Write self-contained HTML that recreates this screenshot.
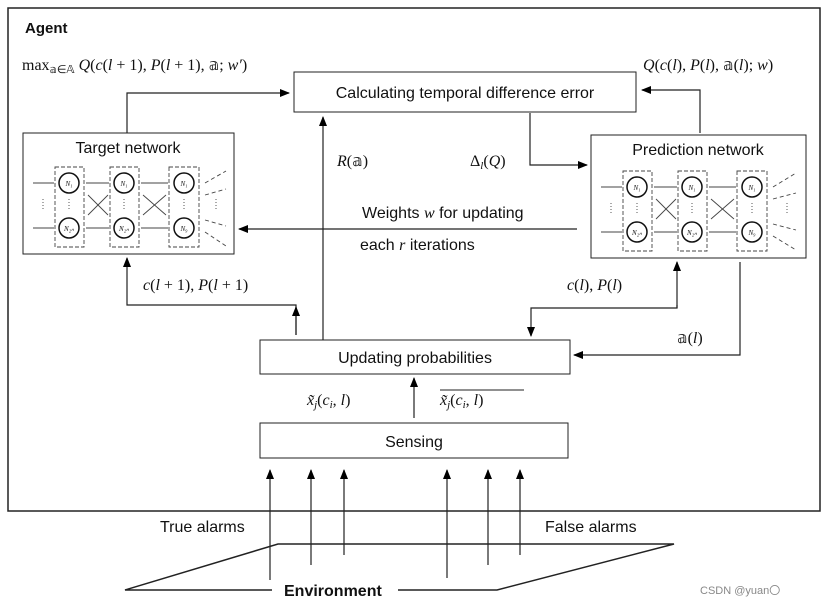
<!DOCTYPE html>
<html><head><meta charset="utf-8"><style>
body{margin:0;background:#fff;}
svg{display:block;}
.s{font-family:"Liberation Sans",sans-serif;font-size:16px;fill:#111;}
.m{font-family:"Liberation Serif",serif;font-size:16px;fill:#111;}
.n{font-family:"Liberation Serif",serif;font-size:7px;font-style:italic;fill:#111;}
</style></head><body>
<svg width="825" height="604" viewBox="0 0 825 604" xmlns="http://www.w3.org/2000/svg">
<defs>
<marker id="a" markerWidth="10" markerHeight="8" refX="9" refY="4" orient="auto" markerUnits="userSpaceOnUse">
<path d="M0,0 L10,4 L0,8 z" fill="#000"/></marker>
</defs>
<rect x="8" y="8" width="812" height="503" fill="none" stroke="#222" stroke-width="1.5"/>
<text x="25" y="33" class="s" style="font-weight:bold;font-size:15px">Agent</text>
<text x="22" y="70" class="m">max<tspan font-size="11" dy="3">𝕒∈𝔸</tspan><tspan dy="-3" font-style="italic"> Q</tspan>(<tspan font-style="italic">c</tspan>(<tspan font-style="italic">l</tspan> + 1), <tspan font-style="italic">P</tspan>(<tspan font-style="italic">l</tspan> + 1), 𝕒; <tspan font-style="italic">w′</tspan>)</text>
<text x="643" y="70" class="m"><tspan font-style="italic">Q</tspan>(<tspan font-style="italic">c</tspan>(<tspan font-style="italic">l</tspan>), <tspan font-style="italic">P</tspan>(<tspan font-style="italic">l</tspan>), 𝕒(<tspan font-style="italic">l</tspan>); <tspan font-style="italic">w</tspan>)</text>

<rect x="294" y="72" width="342" height="40" fill="#fff" stroke="#222"/>
<text x="465" y="98" text-anchor="middle" class="s">Calculating temporal difference error</text>

<g fill="none" stroke="#222" stroke-width="1.2">
<polyline points="127,133 127,93 289,93" marker-end="url(#a)"/>
<polyline points="700,133 700,90 642,90" marker-end="url(#a)"/>
<line x1="323" y1="340" x2="323" y2="117" marker-end="url(#a)"/>
<polyline points="530,113 530,165 587,165" marker-end="url(#a)"/>
<line x1="577" y1="229" x2="239" y2="229" marker-end="url(#a)"/>
<polyline points="296,335 296,305 127,305 127,258" marker-end="url(#a)"/>
<line x1="296" y1="335" x2="296" y2="307" marker-end="url(#a)"/>
<polyline points="677,305 677,308 531,308 531,336" marker-end="url(#a)"/>
<line x1="677" y1="308" x2="677" y2="262" marker-end="url(#a)"/>
<polyline points="740,262 740,355 574,355" marker-end="url(#a)"/>
<line x1="414" y1="418" x2="414" y2="378" marker-end="url(#a)"/>
<line x1="270" y1="580" x2="270" y2="470" marker-end="url(#a)"/>
<line x1="311" y1="565" x2="311" y2="470" marker-end="url(#a)"/>
<line x1="344" y1="555" x2="344" y2="470" marker-end="url(#a)"/>
<line x1="447" y1="578" x2="447" y2="470" marker-end="url(#a)"/>
<line x1="488" y1="565" x2="488" y2="470" marker-end="url(#a)"/>
<line x1="520" y1="555" x2="520" y2="470" marker-end="url(#a)"/>
<polyline points="272,590 125,590 278,544 674,544 497,590 398,590" stroke-width="1.5"/>
</g>

<text x="337" y="166" class="m"><tspan font-style="italic">R</tspan>(𝕒)</text>
<text x="470" y="166" class="m">Δ<tspan font-size="11" dy="3" font-style="italic">l</tspan><tspan dy="-3">(</tspan><tspan font-style="italic">Q</tspan>)</text>
<text x="362" y="218" class="s">Weights <tspan class="m" font-style="italic">w</tspan> for updating</text>
<text x="360" y="250" class="s">each <tspan class="m" font-style="italic">r</tspan> iterations</text>
<text x="143" y="290" class="m"><tspan font-style="italic">c</tspan>(<tspan font-style="italic">l</tspan> + 1), <tspan font-style="italic">P</tspan>(<tspan font-style="italic">l</tspan> + 1)</text>
<text x="567" y="290" class="m"><tspan font-style="italic">c</tspan>(<tspan font-style="italic">l</tspan>), <tspan font-style="italic">P</tspan>(<tspan font-style="italic">l</tspan>)</text>
<text x="677" y="343" class="m">𝕒(<tspan font-style="italic">l</tspan>)</text>

<rect x="260" y="340" width="310" height="34" fill="#fff" stroke="#222"/>
<text x="415" y="363" text-anchor="middle" class="s">Updating probabilities</text>
<text x="307" y="405" class="m"><tspan font-style="italic">x̃</tspan><tspan font-size="11" dy="3" font-style="italic">j</tspan><tspan dy="-3">(</tspan><tspan font-style="italic">c</tspan><tspan font-size="11" dy="3" font-style="italic">i</tspan><tspan dy="-3">, </tspan><tspan font-style="italic">l</tspan>)</text>
<text x="440" y="405" class="m"><tspan font-style="italic">x̃</tspan><tspan font-size="11" dy="3" font-style="italic">j</tspan><tspan dy="-3">(</tspan><tspan font-style="italic">c</tspan><tspan font-size="11" dy="3" font-style="italic">i</tspan><tspan dy="-3">, </tspan><tspan font-style="italic">l</tspan>)</text>
<line x1="440" y1="390" x2="524" y2="390" stroke="#222"/>
<rect x="260" y="423" width="308" height="35" fill="#fff" stroke="#222"/>
<text x="414" y="447" text-anchor="middle" class="s">Sensing</text>

<text x="160" y="532" class="s">True alarms</text>
<text x="545" y="532" class="s">False alarms</text>
<text x="284" y="596" class="s" style="font-weight:bold">Environment</text>
<text x="700" y="594" class="s" style="font-size:11px;fill:#888">CSDN @yuan〇</text>

<!-- Target network -->
<g transform="translate(23,133)">
<rect x="0" y="0" width="211" height="121" fill="#fff" stroke="#222"/>
<text x="105" y="20" text-anchor="middle" class="s">Target network</text>
<g stroke="#444" fill="none" stroke-width="0.9">
<rect x="32" y="34" width="29" height="80" stroke-dasharray="4,2"/>
<rect x="87" y="34" width="29" height="80" stroke-dasharray="4,2"/>
<rect x="146" y="34" width="30" height="80" stroke-dasharray="4,2"/>
<line x1="10" y1="50" x2="31" y2="50"/><line x1="10" y1="95" x2="31" y2="95"/>
<line x1="63" y1="50" x2="86" y2="50"/><line x1="63" y1="95" x2="86" y2="95"/>
<line x1="118" y1="50" x2="145" y2="50"/><line x1="118" y1="95" x2="145" y2="95"/>
<line x1="65" y1="82" x2="85" y2="62"/><line x1="65" y1="62" x2="85" y2="82"/>
<line x1="120" y1="82" x2="143" y2="62"/><line x1="120" y1="62" x2="143" y2="82"/>
<g stroke-dasharray="4,3"><line x1="182" y1="50" x2="203" y2="38"/><line x1="182" y1="62" x2="203" y2="56"/><line x1="182" y1="87" x2="203" y2="93"/><line x1="182" y1="99" x2="203" y2="113"/></g>
<g stroke="#111" stroke-width="1.5"><circle cx="46" cy="50" r="10"/><circle cx="46" cy="95" r="10"/><circle cx="101" cy="50" r="10"/><circle cx="101" cy="95" r="10"/><circle cx="161" cy="50" r="10"/><circle cx="161" cy="95" r="10"/></g>
<g stroke-dasharray="1,2"><line x1="20" y1="66" x2="20" y2="78"/><line x1="46" y1="66" x2="46" y2="78"/><line x1="101" y1="66" x2="101" y2="78"/><line x1="161" y1="66" x2="161" y2="78"/><line x1="193" y1="66" x2="193" y2="78"/></g>
</g>
<text x="46" y="53" text-anchor="middle" class="n">N₁</text><text x="46" y="98" text-anchor="middle" class="n">N₂ₙ</text>
<text x="101" y="53" text-anchor="middle" class="n">N₁</text><text x="101" y="98" text-anchor="middle" class="n">N₂ₙ</text>
<text x="161" y="53" text-anchor="middle" class="n">N₁</text><text x="161" y="98" text-anchor="middle" class="n">N₉</text>
</g>

<!-- Prediction network -->
<g transform="translate(591,135)">
<rect x="0" y="0" width="215" height="123" fill="#fff" stroke="#222"/>
<text x="107" y="20" text-anchor="middle" class="s">Prediction network</text>
<g stroke="#444" fill="none" stroke-width="0.9">
<rect x="32" y="36" width="29" height="80" stroke-dasharray="4,2"/>
<rect x="87" y="36" width="29" height="80" stroke-dasharray="4,2"/>
<rect x="146" y="36" width="30" height="80" stroke-dasharray="4,2"/>
<line x1="10" y1="52" x2="31" y2="52"/><line x1="10" y1="97" x2="31" y2="97"/>
<line x1="63" y1="52" x2="86" y2="52"/><line x1="63" y1="97" x2="86" y2="97"/>
<line x1="118" y1="52" x2="145" y2="52"/><line x1="118" y1="97" x2="145" y2="97"/>
<line x1="65" y1="84" x2="85" y2="64"/><line x1="65" y1="64" x2="85" y2="84"/>
<line x1="120" y1="84" x2="143" y2="64"/><line x1="120" y1="64" x2="143" y2="84"/>
<g stroke-dasharray="4,3"><line x1="182" y1="52" x2="205" y2="38"/><line x1="182" y1="64" x2="205" y2="58"/><line x1="182" y1="89" x2="205" y2="95"/><line x1="182" y1="101" x2="205" y2="115"/></g>
<g stroke="#111" stroke-width="1.5"><circle cx="46" cy="52" r="10"/><circle cx="46" cy="97" r="10"/><circle cx="101" cy="52" r="10"/><circle cx="101" cy="97" r="10"/><circle cx="161" cy="52" r="10"/><circle cx="161" cy="97" r="10"/></g>
<g stroke-dasharray="1,2"><line x1="20" y1="68" x2="20" y2="80"/><line x1="46" y1="68" x2="46" y2="80"/><line x1="101" y1="68" x2="101" y2="80"/><line x1="161" y1="68" x2="161" y2="80"/><line x1="196" y1="68" x2="196" y2="80"/></g>
</g>
<text x="46" y="55" text-anchor="middle" class="n">N₁</text><text x="46" y="100" text-anchor="middle" class="n">N₂ₙ</text>
<text x="101" y="55" text-anchor="middle" class="n">N₁</text><text x="101" y="100" text-anchor="middle" class="n">N₂ₙ</text>
<text x="161" y="55" text-anchor="middle" class="n">N₁</text><text x="161" y="100" text-anchor="middle" class="n">N₉</text>
</g>
</svg>
</body></html>
